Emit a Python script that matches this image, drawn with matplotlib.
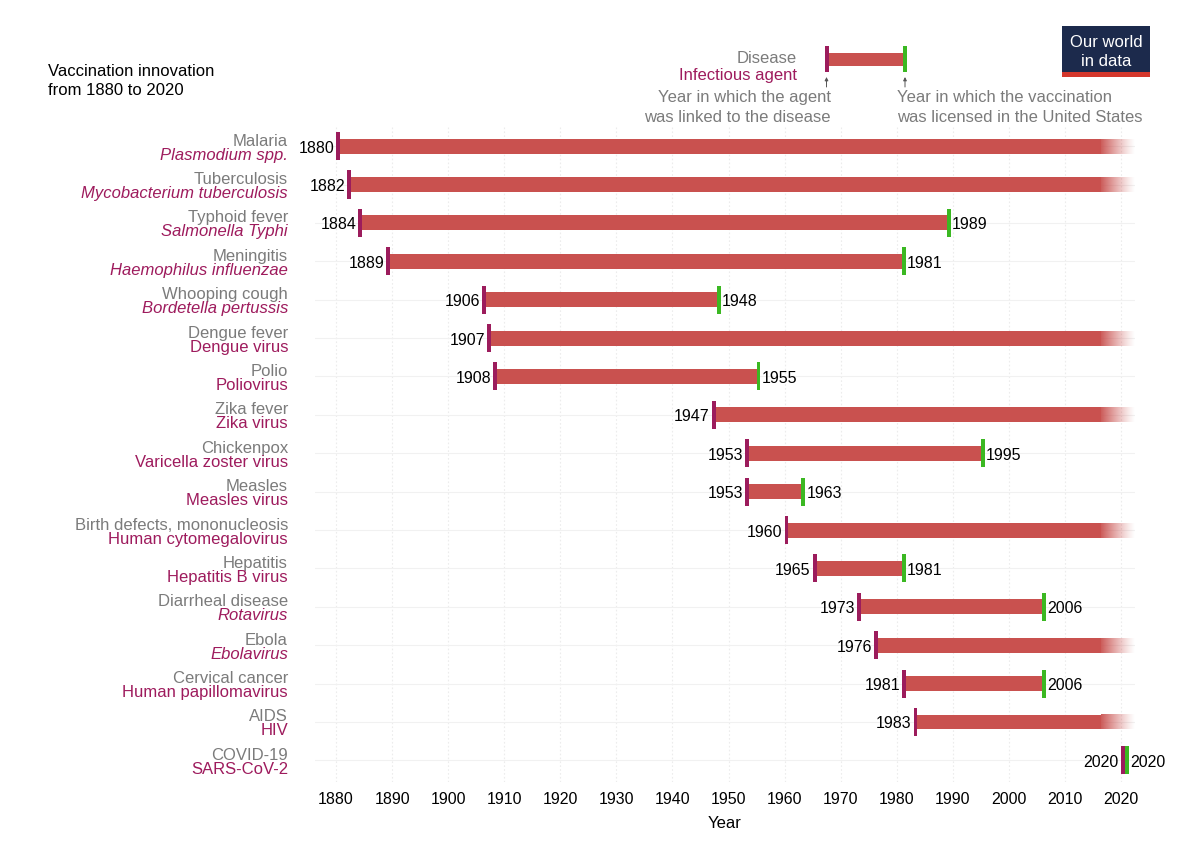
import matplotlib
matplotlib.use("Agg")
import matplotlib.pyplot as plt
import numpy as np
from matplotlib.patches import Rectangle

plt.rcParams['font.family'] = ['Liberation Sans', 'DejaVu Sans']

# ---------------- data ----------------
diseases = ["Malaria", "Tuberculosis", "Typhoid fever", "Meningitis", "Whooping cough",
            "Dengue fever", "Polio", "Zika fever", "Chickenpox", "Measles",
            "Birth defects, mononucleosis", "Hepatitis", "Diarrheal disease", "Ebola",
            "Cervical cancer", "AIDS", "COVID-19"]
agents = ["Plasmodium spp.", "Mycobacterium tuberculosis", "Salmonella Typhi",
          "Haemophilus influenzae", "Bordetella pertussis", "Dengue virus", "Poliovirus",
          "Zika virus", "Varicella zoster virus", "Measles virus", "Human cytomegalovirus",
          "Hepatitis B virus", "Rotavirus", "Ebolavirus", "Human papillomavirus", "HIV",
          "SARS-CoV-2"]
agent_italic = [True, True, True, True, True, False, False, False, False, False, False,
                False, True, True, False, False, False]
year_linked = [1880, 1882, 1884, 1889, 1906, 1907, 1908, 1947, 1953, 1953, 1960, 1965,
               1973, 1976, 1981, 1983, 2020]
year_licensed = [None, None, 1989, 1981, 1948, None, 1955, None, 1995, 1963, None, 1981,
                 2006, None, 2006, None, 2020]
x_ticks = list(range(1880, 2021, 10))

# ---------------- style ----------------
BAR = "#c9514f"
PURPLE = "#9c1c5c"
GREEN = "#3bb822"
GRAY = "#7b7b7b"
AGENT = "#9e1b5d"
FADE_START, FADE_END = 2016.4, 2022.4
BAR_H = 0.39
TICK_H = 0.73
TICK_W = 0.7

fig = plt.figure(figsize=(12, 8.45), dpi=100)
W, H = 1200, 845
ax_left, ax_right, ax_top, ax_bot = 315, 1135, 126, 782.5
ax = fig.add_axes([ax_left / W, (H - ax_bot) / H, (ax_right - ax_left) / W, (ax_bot - ax_top) / H])

n = len(diseases)
rows = np.arange(n)

# grid
for xt in x_ticks:
    ax.axvline(xt, color="#ececec", lw=0.8, ls=(0, (1.5, 2)), zorder=0)
for r in rows:
    ax.axhline(r, color="#f1f1f1", lw=0.8, zorder=0)

rgba = np.zeros((1, 256, 4))
rgba[..., :3] = matplotlib.colors.to_rgb(BAR)
rgba[0, :, 3] = np.linspace(0.95, 0.0, 256) ** 1.2

for i in range(n):
    a = year_linked[i]
    b = year_licensed[i]
    if b is None:
        ax.barh(i, FADE_START - a, left=a, height=BAR_H, color=BAR, lw=0, zorder=2)
        ax.imshow(rgba, extent=[FADE_START, FADE_END, i + BAR_H / 2, i - BAR_H / 2],
                  aspect="auto", zorder=2, interpolation="bilinear")
    else:
        ax.barh(i, b - a, left=a, height=BAR_H, color=BAR, lw=0, zorder=2)
    # purple start tick
    ax.barh(i, TICK_W, left=a, height=TICK_H, color=PURPLE, lw=0, zorder=3)
    ax.annotate(str(a), xy=(a, i), xytext=(-2, -5.5), textcoords="offset pixels",
                ha="right", va="baseline", fontsize=11.5, color="black", zorder=4)
    if b is not None:
        gx = b if b > a else a + TICK_W
        ax.barh(i, TICK_W, left=gx, height=TICK_H, color=GREEN, lw=0, zorder=3)
        ax.annotate(str(b), xy=(gx + TICK_W, i), xytext=(1, -5.5), textcoords="offset pixels",
                    ha="left", va="baseline", fontsize=11.5, color="black", zorder=4)

# row labels
ytr = ax.get_yaxis_transform()
for i in range(n):
    ax.annotate(diseases[i], xy=(0, i), xycoords=ytr, xytext=(-27, 1.5),
                textcoords="offset pixels", ha="right", va="baseline", fontsize=12,
                color=GRAY, annotation_clip=False)
    ax.annotate(agents[i], xy=(0, i), xycoords=ytr, xytext=(-27, -12.5),
                textcoords="offset pixels", ha="right", va="baseline", fontsize=12,
                color=AGENT, style="italic" if agent_italic[i] else "normal",
                annotation_clip=False)

ax.set_xlim(1876.25, 2022.5)
ax.set_ylim(n - 1 + 0.55, -0.55)
ax.set_xticks(x_ticks)
ax.set_xticklabels([str(t) for t in x_ticks], fontsize=11.5)
ax.tick_params(axis="x", length=0, pad=7)
ax.set_yticks([])
for s in ax.spines.values():
    s.set_visible(False)
ax.set_xlabel("Year", fontsize=12, labelpad=6)

# ---------------- overlay: title, legend, logo (pixel coords) ----------------
ov = fig.add_axes([0, 0, 1, 1], zorder=5)
ov.set_xlim(0, W)
ov.set_ylim(H, 0)
ov.axis("off")
ov.patch.set_alpha(0)

ov.text(48, 76, "Vaccination innovation", fontsize=12, color="black", va="baseline")
ov.text(48, 95, "from 1880 to 2020", fontsize=12, color="black", va="baseline")

ov.add_patch(Rectangle((826, 54), 79, 13, color=BAR, lw=0))
ov.add_patch(Rectangle((824.5, 47), 4, 26, color=PURPLE, lw=0))
ov.add_patch(Rectangle((903, 47), 4, 26, color=GREEN, lw=0))
for xa in (826.5, 905):
    ov.annotate("", xy=(xa, 78), xytext=(xa, 88),
                arrowprops=dict(arrowstyle="-|>", color="#555555", lw=0.7,
                                mutation_scale=5, shrinkA=0, shrinkB=0))
ov.text(797, 63, "Disease", fontsize=12, color=GRAY, ha="right", va="baseline")
ov.text(797, 80, "Infectious agent", fontsize=12, color=AGENT, ha="right", va="baseline")
ov.text(831, 102, "Year in which the agent", fontsize=12, color=GRAY, ha="right", va="baseline")
ov.text(831, 122, "was linked to the disease", fontsize=12, color=GRAY, ha="right", va="baseline")
ov.text(897, 102, "Year in which the vaccination", fontsize=12, color=GRAY, ha="left", va="baseline")
ov.text(897, 122, "was licensed in the United States", fontsize=12, color=GRAY, ha="left", va="baseline")

ov.add_patch(Rectangle((1062, 27), 88, 51, color="#1c2a4c", lw=0))
ov.add_patch(Rectangle((1062, 73), 88, 5, color="#d4372c", lw=0))
ov.text(1106, 47, "Our world", fontsize=12, color="white", ha="center", va="baseline")
ov.text(1106, 66, "in data", fontsize=12, color="white", ha="center", va="baseline")

fig.savefig("out.png", dpi=100, facecolor="white")
